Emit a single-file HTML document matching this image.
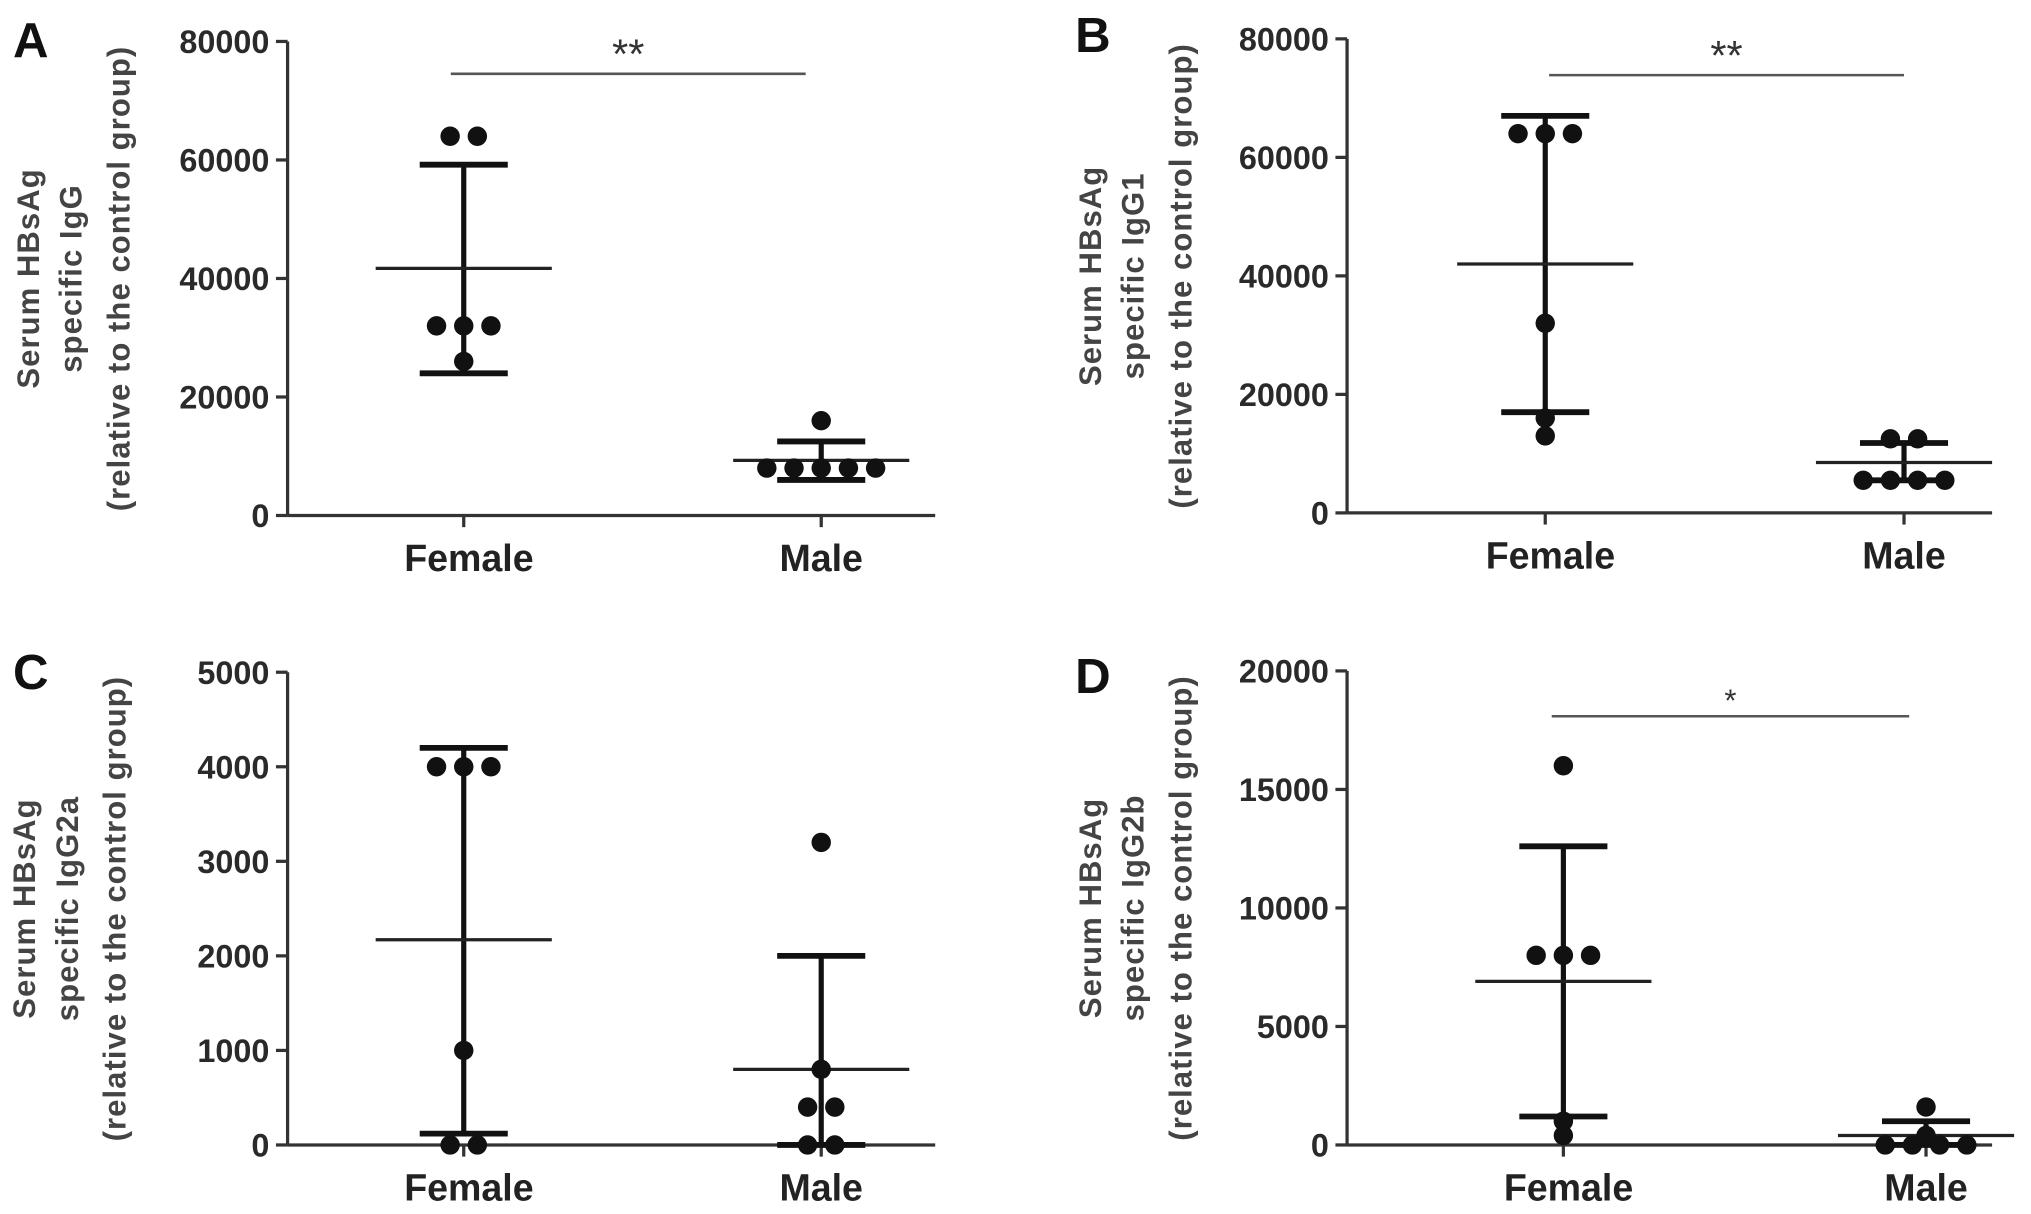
<!DOCTYPE html>
<html><head><meta charset="utf-8"><style>
html,body{margin:0;padding:0;background:#fff;}
svg{display:block;font-family:"Liberation Sans",Arial,sans-serif;}
.tick{font-size:25px;fill:#2a2a2a;text-anchor:end;font-weight:bold;}
.cat{font-size:29px;fill:#222;text-anchor:middle;font-weight:bold;}
.yt{font-size:24px;fill:#444;text-anchor:middle;font-weight:bold;letter-spacing:0.8px;}
.pl{font-size:38px;fill:#111;font-weight:bold;}
</style></head><body>
<svg id="fig" width="2031" height="1214" viewBox="0 0 1568 937.3" xmlns="http://www.w3.org/2000/svg"></svg>
<script>
// Panel A data
const catsA = ["Female","Male"];
const femaleA = [64000,64000,32000,32000,32000,26000];
const maleA = [16000,8000,8000,8000,8000,8000];
const meanA = [41700,9300];
const upperA = [59200,12500];
const lowerA = [24000,6000];
const ticksA = [0,20000,40000,60000,80000];
// Panel B data
const femaleB = [64000,64000,64000,32000,16000,13000];
const maleB = [12500,12500,5500,5500,5500,5500];
const meanB = [42000,8500];
const upperB = [67000,11800];
const lowerB = [17000,5500];
const ticksB = [0,20000,40000,60000,80000];
// Panel C data
const femaleC = [4000,4000,4000,1000,0,0];
const maleC = [3200,800,400,400,0,0];
const meanC = [2170,800];
const upperC = [4200,2000];
const lowerC = [120,0];
const ticksC = [0,1000,2000,3000,4000,5000];
// Panel D data
const femaleD = [16000,8000,8000,8000,1000,400];
const maleD = [1600,400,0,0,0,0];
const meanD = [6900,400];
const upperD = [12600,1000];
const lowerD = [1200,0];
const ticksD = [0,5000,10000,15000,20000];

const NS="http://www.w3.org/2000/svg";
const svg=document.getElementById('fig');
function mk(tag,attrs,parent,text){const e=document.createElementNS(NS,tag);for(const k in attrs)e.setAttribute(k,attrs[k]);if(text!==undefined)e.textContent=text;(parent||svg).appendChild(e);return e;}

function panel(o){
  const g=mk('g',{});
  
  
  const ymax=o.ticks[o.ticks.length-1];
  const y=v=>o.y0-(v/ymax)*(o.y0-o.ytop);
  const xs=[o.xf,o.xm];
  const L=mk('text',{x:o.lx,y:o.ly,class:'pl'},g,o.letter);
  
  
  const ya=mk('line',{x1:o.ax,y1:o.ytop,x2:o.ax,y2:o.y0,stroke:'#333','stroke-width':2.5},g);
  
  
  o.ticks.forEach(t=>{
    mk('line',{x1:o.ax-9,y1:y(t),x2:o.ax,y2:y(t),stroke:'#333','stroke-width':2.5},g);
    const tl=mk('text',{x:o.ax-14,y:y(t)+9,class:'tick'},g,String(t));
    
    
  });
  const xa=mk('line',{x1:o.ax,y1:o.y0,x2:o.axEnd,y2:o.y0,stroke:'#333','stroke-width':2.5},g);
  
  
  catsA.forEach((c,i)=>{
    mk('line',{x1:xs[i],y1:o.y0,x2:xs[i],y2:o.y0+9,stroke:'#333','stroke-width':2.5},g);
    const cl=mk('text',{x:xs[i]+(i===0?4:0),y:o.y0+43,class:'cat'},g,c);
    
    
  });
  const tg=mk('g',{transform:`translate(${o.tx},${(o.ytop+o.y0)/2+(o.tyOff||0)}) rotate(-90)`},g);
  
  
  mk('text',{x:0,y:0,class:'yt'},tg,'Serum  HBsAg');
  mk('text',{x:0,y:33,class:'yt'},tg,o.sub);
  mk('text',{x:0,y:70,class:'yt'},tg,'(relative to the control group)');
  [o.f,o.m].forEach((vals,i)=>{
    const cx=xs[i];
    const eb=mk('g',{},g);
    
    
    mk('line',{x1:cx,y1:y(o.up[i]),x2:cx,y2:y(o.lo[i]),stroke:'#111','stroke-width':4},eb);
    mk('line',{x1:cx-34,y1:y(o.up[i]),x2:cx+34,y2:y(o.up[i]),stroke:'#111','stroke-width':4.5},eb);
    mk('line',{x1:cx-34,y1:y(o.lo[i]),x2:cx+34,y2:y(o.lo[i]),stroke:'#111','stroke-width':4.5},eb);
    const ml=mk('line',{x1:cx-68,y1:y(o.mean[i]),x2:cx+68,y2:y(o.mean[i]),stroke:'#222','stroke-width':2.5},g);
    
    
    const counts={},seen={};
    vals.forEach(v=>counts[v]=(counts[v]||0)+1);
    vals.forEach(v=>{
      seen[v]=(seen[v]||0);
      const off=(seen[v]-(counts[v]-1)/2)*21;seen[v]++;
      const p=mk('circle',{cx:cx+off,cy:y(v),r:7.5,fill:'#111'},g);
      
      
    });
  });
  if(o.sig){
    const sl=mk('line',{x1:o.sig[0],y1:o.sig[2],x2:o.sig[1],y2:o.sig[2],stroke:'#555','stroke-width':2},g);
    
    
    const st=mk('text',{x:(o.sig[0]+o.sig[1])/2,y:o.sig[2]-4,'text-anchor':'middle','font-size':o.sig[3]==='*'?24:32,fill:'#333'},g,o.sig[3]);
    
    
  }
}
panel({letter:'A',lx:10,ly:44,ax:222,ytop:32,y0:398,axEnd:722,xf:358,xm:634,tx:30,sub:'specific IgG',
  ticks:ticksA,f:femaleA,m:maleA,mean:meanA,up:upperA,lo:lowerA,sig:[348,622,57,'**']});
panel({letter:'B',lx:830,ly:40,ax:1040,ytop:30,y0:396,axEnd:1538,xf:1193,xm:1470,tx:850,sub:'specific IgG1',
  ticks:ticksB,f:femaleB,m:maleB,mean:meanB,up:upperB,lo:lowerB,sig:[1196,1470,58,'**']});
panel({letter:'C',lx:10,ly:532,ax:222,ytop:519,y0:884,axEnd:722,xf:358,xm:634,tx:27,sub:'specific IgG2a',
  ticks:ticksC,f:femaleC,m:maleC,mean:meanC,up:upperC,lo:lowerC});
panel({letter:'D',lx:830,ly:535,ax:1040,ytop:518,y0:884,axEnd:1538,xf:1207,xm:1487,tx:850,sub:'specific IgG2b',
  ticks:ticksD,f:femaleD,m:maleD,mean:meanD,up:upperD,lo:lowerD,sig:[1198,1474,553,'*']});
</script>
</body></html>
